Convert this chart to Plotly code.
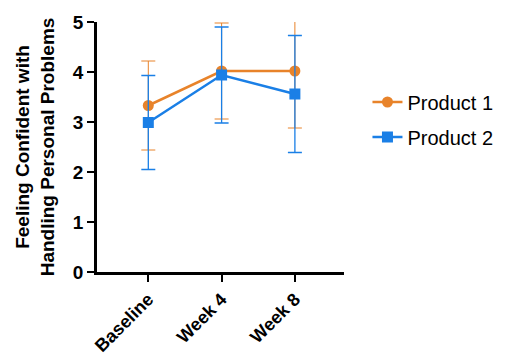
import plotly.graph_objects as go

# Time points and mean scores with error bars
timepoints = ["Baseline", "Week 4", "Week 8"]
product1_mean = [3.33, 4.02, 4.02]
product1_err = [0.89, 0.96, 1.14]
product2_mean = [2.99, 3.94, 3.56]
product2_err = [0.94, 0.96, 1.17]

orange = "#E8832A"
blue = "#1A7FE6"
xpos = list(range(len(timepoints)))
font_family = "Liberation Sans, Arial, sans-serif"

fig = go.Figure()
fig.add_trace(go.Scatter(
    x=xpos, y=product1_mean, name="Product 1", mode="lines+markers",
    line=dict(color=orange, width=2.5),
    marker=dict(symbol="circle", size=11, color=orange),
    error_y=dict(type="data", array=product1_err, color=orange, thickness=1, width=7),
    legendgroup="p1",
))
fig.add_trace(go.Scatter(
    x=xpos, y=product2_mean, name="Product 2", mode="lines+markers",
    line=dict(color=blue, width=2.5),
    marker=dict(symbol="square", size=11, color=blue),
    error_y=dict(type="data", array=product2_err, color=blue, thickness=1.3, width=7),
    legendgroup="p2",
))

fig.update_layout(
    width=510, height=360,
    margin=dict(l=97, r=162, t=22, b=88),
    plot_bgcolor="white", paper_bgcolor="white",
    font=dict(family=font_family, color="black"),
    legend=dict(
        x=1.095, y=0.61, xanchor="left", yanchor="middle",
        font=dict(size=20), traceorder="grouped", tracegroupgap=6,
        itemwidth=30,
    ),
    xaxis=dict(
        range=[-0.7, 2.67], tickvals=xpos, ticktext=timepoints,
        tickangle=-45, showgrid=False, zeroline=False, automargin=False,
        showline=True, linecolor="black", linewidth=2.5,
        ticks="outside", ticklen=7, tickwidth=2, tickcolor="black",
        tickfont=dict(size=18, weight="bold"),
    ),
    yaxis=dict(
        range=[0, 5], tickvals=[0, 1, 2, 3, 4, 5], showgrid=False, zeroline=False,
        automargin=False,
        showline=True, linecolor="black", linewidth=2.5,
        ticks="outside", ticklen=7, tickwidth=2, tickcolor="black",
        tickfont=dict(size=19, weight="bold"),
        title=dict(
            text="Feeling Confident with<br>Handling Personal Problems",
            font=dict(size=19, weight="bold"), standoff=14,
        ),
    ),
)

fig.write_html("out.html")
